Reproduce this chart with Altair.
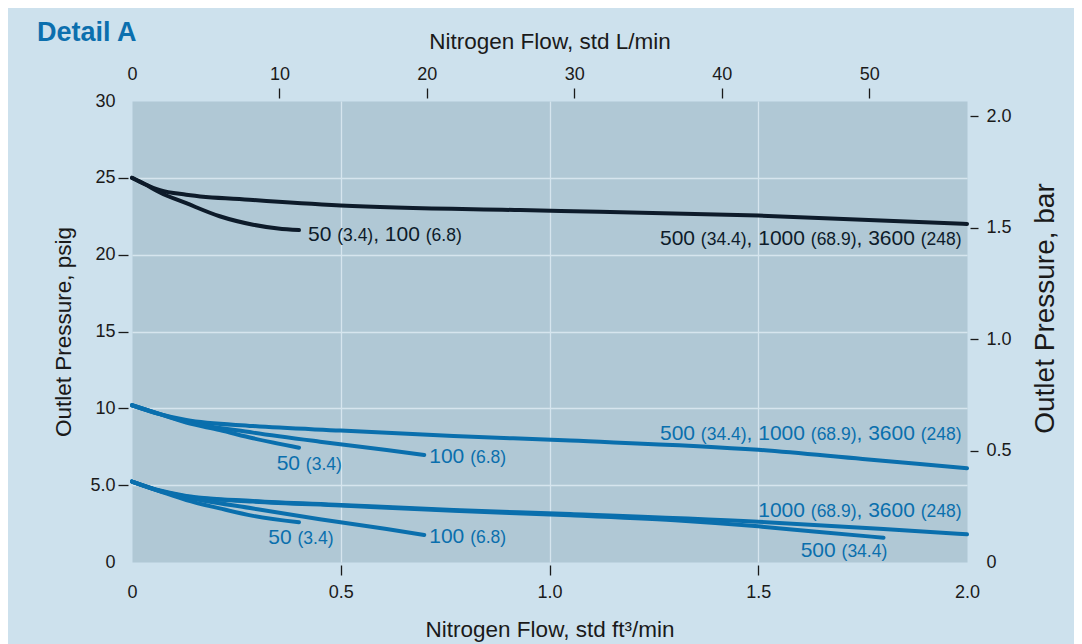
import re
import altair as alt
import pandas as pd

FONT = "Liberation Sans"
DARK = "#0d1b2a"
BLUE = "#0a6fad"
TEXT = "#1a1a1a"
BG = "#cde1ed"
PLOT = "#b0c8d5"
GRID = "#d6e5ee"

# ---------------- data (flow in std ft3/min, outlet pressure in psig) -------------
curve_names = ["d_hi", "d_lo", "m_hi", "m_100", "m_50", "l_hi", "l_500", "l_100", "l_50"]
curve_sets = ["25", "25", "10", "10", "10", "5", "5", "5", "5"]

d_hi_x = [0, 0.03, 0.067, 0.13, 0.29, 0.5, 0.93, 1.12, 1.5, 2.0]
d_hi_y = [25.0, 24.6, 24.2, 23.9, 23.56, 23.2, 22.9, 22.8, 22.55, 22.0]
d_lo_x = [0, 0.03, 0.067, 0.13, 0.21, 0.29, 0.35, 0.40]
d_lo_y = [25.0, 24.6, 24.05, 23.35, 22.5, 21.95, 21.7, 21.6]

m_hi_x = [0, 0.067, 0.13, 0.29, 0.5, 0.77, 1.05, 1.5, 1.75, 2.0]
m_hi_y = [10.2, 9.62, 9.24, 8.85, 8.55, 8.2, 7.9, 7.3, 6.7, 6.1]
m_100_x = [0, 0.067, 0.13, 0.29, 0.45, 0.61, 0.70]
m_100_y = [10.2, 9.62, 9.13, 8.42, 7.83, 7.29, 6.96]
m_50_x = [0, 0.067, 0.13, 0.21, 0.29, 0.40]
m_50_y = [10.2, 9.62, 9.07, 8.59, 8.05, 7.44]

l_hi_x = [0, 0.067, 0.13, 0.29, 0.5, 0.77, 1.05, 1.5, 1.8, 2.0]
l_hi_y = [5.23, 4.65, 4.3, 3.97, 3.71, 3.38, 3.12, 2.62, 2.15, 1.8]
l_500_x = [0, 0.067, 0.13, 0.29, 0.5, 0.77, 1.05, 1.3, 1.5, 1.64, 1.8]
l_500_y = [5.23, 4.62, 4.27, 3.93, 3.67, 3.33, 3.05, 2.72, 2.32, 1.97, 1.58]
l_100_x = [0, 0.067, 0.13, 0.29, 0.45, 0.61, 0.70]
l_100_y = [5.23, 4.62, 4.21, 3.48, 2.78, 2.15, 1.76]
l_50_x = [0, 0.067, 0.13, 0.21, 0.29, 0.40]
l_50_y = [5.23, 4.6, 4.03, 3.49, 3.0, 2.58]

curve_x = [d_hi_x, d_lo_x, m_hi_x, m_100_x, m_50_x, l_hi_x, l_500_x, l_100_x, l_50_x]
curve_y = [d_hi_y, d_lo_y, m_hi_y, m_100_y, m_50_y, l_hi_y, l_500_y, l_100_y, l_50_y]

# curve labels: inlet pressure psig (bar)
label_set = ["25", "25", "10", "10", "10", "5", "5", "5", "5"]
label_x = [0.4216, 1.987, 0.3465, 0.712, 1.987, 0.3266, 0.712, 1.987, 1.809]
label_y = [20.9, 20.6, 6.0, 6.42, 7.94, 1.17, 1.26, 2.95, 0.35]
label_align = ["left", "right", "left", "left", "right", "left", "left", "right", "right"]
label_text = [
    "50 (3.4), 100 (6.8)",
    "500 (34.4), 1000 (68.9), 3600 (248)",
    "50 (3.4)",
    "100 (6.8)",
    "500 (34.4), 1000 (68.9), 3600 (248)",
    "50 (3.4)",
    "100 (6.8)",
    "1000 (68.9), 3600 (248)",
    "500 (34.4)",
]

x_ticks = [0, 0.5, 1.0, 1.5, 2.0]
y_ticks = [0, 5, 10, 15, 20, 25, 30]
lpm_ticks = [0, 10, 20, 30, 40, 50]
bar_ticks = [0, 0.5, 1.0, 1.5, 2.0]

FT3_TO_L = 28.3168
BAR_TO_PSI = 14.5038

# ---------------- build tables ----------------
rows = []
for name, s, xs, ys in zip(curve_names, curve_sets, curve_x, curve_y):
    for i, (a, b) in enumerate(zip(xs, ys)):
        rows.append({"curve": name, "set": s, "flow": a, "psig": b, "i": i})
df = pd.DataFrame(rows)

set_color = alt.Scale(domain=["25", "10", "5"], range=[DARK, BLUE, BLUE])

BIG, SMALL = 21, 17.5
W = {c: 556 for c in "0123456789"}
W.update({" ": 278, "(": 333, ")": 333, ".": 278, ",": 278})


def width(s, size):
    return sum(W.get(c, 556) for c in s) / 1000.0 * size


def hide_at(vals, shown, hidden="transparent"):
    test = " || ".join("datum.value == %s" % v for v in vals)
    return {"condition": {"test": test, "value": hidden}, "value": shown}


def hide_op(vals):
    test = " || ".join("datum.value == %s" % v for v in vals)
    return {"condition": {"test": test, "value": 0}, "value": 1}


x_axis = alt.Axis(
    orient="bottom", values=x_ticks, title="Nitrogen Flow, std ft³/min",
    labelExpr="datum.value == 0 ? '0' : format(datum.value, '.1f')",
    domain=False, offset=3, tickSize=10, tickWidth=1.3,
    tickColor=hide_at([0, 2], TEXT), labelPadding=8, titlePadding=17,
    grid=True, gridColor=GRID, gridWidth=1.3, gridOpacity=hide_op([0, 2]),
    labelFlush=False, labelOverlap=False, titleFontSize=22.5,
)
y_axis = alt.Axis(
    orient="left", values=y_ticks, title="Outlet Pressure, psig",
    labelExpr="datum.value == 5 ? '5.0' : format(datum.value, 'd')",
    domain=False, offset=4, tickSize=10, tickWidth=1.3,
    tickColor=hide_at([0, 30], TEXT), labelPadding=3, titlePadding=14,
    grid=True, gridColor=GRID, gridWidth=1.3, gridOpacity=hide_op([0, 30]),
    labelOverlap=False, labelFlush=False, titleFontSize=22.5,
)
X = alt.X("flow:Q", scale=alt.Scale(domain=[0, 2], nice=False, zero=False), axis=x_axis)
Y = alt.Y("psig:Q", scale=alt.Scale(domain=[0, 30], nice=False, zero=False), axis=y_axis)

lines = alt.Chart(df).mark_line(strokeWidth=4, interpolate="monotone", strokeCap="round").encode(
    x=X, y=Y,
    color=alt.Color("set:N", scale=set_color, legend=None),
    detail="curve:N",
    order="i:Q",
)

label_layers = []
for s, lx, ly, al, txt in zip(label_set, label_x, label_y, label_align, label_text):
    parts = [p for p in re.split(r"(\([^)]*\))", txt) if p]
    sizes = [SMALL if p.startswith("(") else BIG for p in parts]
    total = sum(width(p, z) for p, z in zip(parts, sizes))
    off = 0 if al == "left" else -total
    col = DARK if s == "25" else BLUE
    for p, z in zip(parts, sizes):
        seg = pd.DataFrame({"flow": [lx], "psig": [ly], "txt": [p]})
        label_layers.append(
            alt.Chart(seg).mark_text(
                align="left", baseline="alphabetic", dx=off, fontSize=z, font=FONT, color=col
            ).encode(x="flow:Q", y="psig:Q", text="txt:N")
        )
        off += width(p, z)

main = alt.layer(lines, *label_layers)

top_axis = alt.Axis(
    orient="top", values=lpm_ticks, title="Nitrogen Flow, std L/min",
    domain=False, offset=3, tickSize=10, tickWidth=1.3,
    tickColor=hide_at([0], TEXT), labelPadding=5, titlePadding=12,
    grid=False, labelFlush=False, labelOverlap=False, titleFontSize=22.5,
)
right_axis = alt.Axis(
    orient="right", values=bar_ticks, title="Outlet Pressure, bar",
    labelExpr="datum.value == 0 ? '0' : format(datum.value, '.1f')",
    domain=False, offset=3, tickSize=8, tickWidth=1.3,
    tickColor=hide_at([0], TEXT), labelPadding=8, titlePadding=20,
    titleAngle=270, titleBaseline="top", titleAlign="center", titleFontSize=28, titleY=207,
    grid=False, labelFlush=False, labelOverlap=False,
)
aux = alt.Chart(df).transform_calculate(
    lpm="datum.flow * %f" % FT3_TO_L, bar="datum.psig / %f" % BAR_TO_PSI
).mark_point(opacity=0).encode(
    x=alt.X("lpm:Q", scale=alt.Scale(domain=[0, 2 * FT3_TO_L], nice=False, zero=False), axis=top_axis),
    y=alt.Y("bar:Q", scale=alt.Scale(domain=[0, 30 / BAR_TO_PSI], nice=False, zero=False), axis=right_axis),
)

chart = alt.layer(main, aux).resolve_scale(x="independent", y="independent").properties(
    width=835, height=461,
    autosize=alt.AutoSizeParams(type="none"),
    padding={"left": 124, "top": 93, "right": 107, "bottom": 82},
    background=BG,
    title=alt.TitleParams(
        "Detail A", anchor="start", frame="group", dx=-95, dy=21,
        fontSize=27, fontWeight="bold", color="#0b6fae", font=FONT,
    ),
).configure_view(fill=PLOT, stroke="transparent").configure_axis(
    labelFont=FONT, titleFont=FONT, labelFontSize=18, titleFontSize=21,
    labelColor=TEXT, titleColor=TEXT, titleFontWeight="normal",
)

chart.save("out.html", embed_options={"renderer": "svg", "actions": False})
